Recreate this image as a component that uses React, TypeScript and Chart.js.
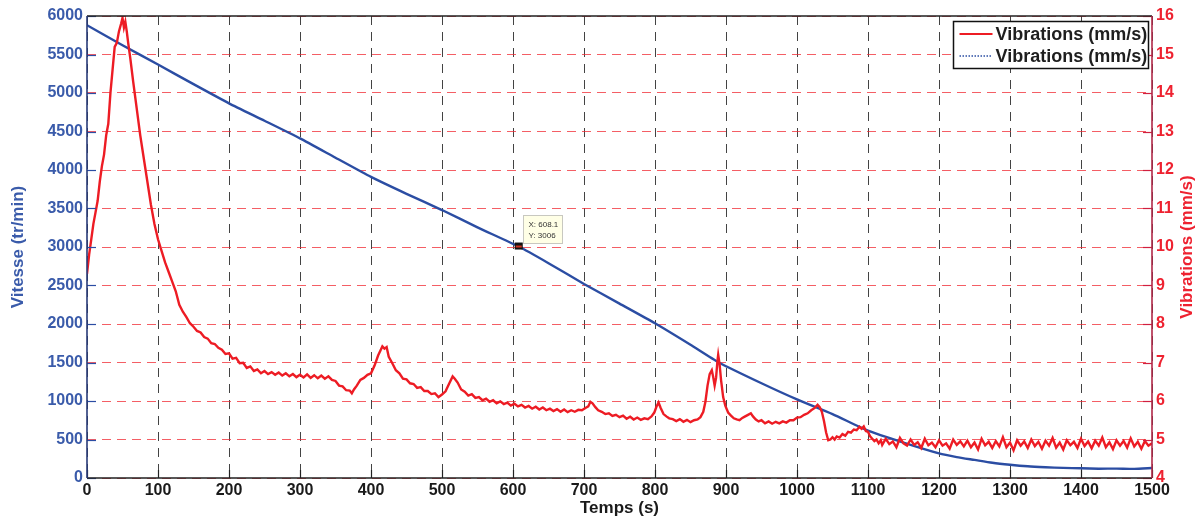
import React, { useEffect, useRef } from "react";
import { Chart, registerables } from "chart.js";

Chart.register(...registerables);

const FONT = "'Liberation Sans', Arial, Helvetica, sans-serif";

const timeTicks = [0, 100, 200, 300, 400, 500, 600, 700, 800, 900, 1000, 1100, 1200, 1300, 1400, 1500];
const speedTicks = [0, 500, 1000, 1500, 2000, 2500, 3000, 3500, 4000, 4500, 5000, 5500, 6000];
const vibrationTicks = [4, 5, 6, 7, 8, 9, 10, 11, 12, 13, 14, 15, 16];

const speedTimes = [0, 50, 100, 150, 200, 250, 300, 350, 400, 450, 500, 550, 608, 650, 700, 750, 800, 850, 890, 950, 1000, 1050, 1100, 1150, 1200, 1225, 1250, 1275, 1300, 1325, 1350, 1375, 1400, 1425, 1450, 1475, 1500];
const speedValues = [5880, 5620, 5370, 5115, 4866, 4640, 4411, 4160, 3910, 3690, 3480, 3255, 3006, 2790, 2520, 2265, 2009, 1730, 1500, 1230, 1020, 830, 615, 460, 320, 272, 235, 198, 172, 152, 140, 131, 126, 121, 122, 118, 130];

const vibrationTimes = [
  0, 3, 6, 9, 12, 15, 18, 21, 24, 27, 30, 33, 36, 39, 42, 45, 48, 50, 52, 54, 56, 58, 61, 65, 70, 75, 80, 85, 90, 95,
  100, 105, 110, 115, 120, 125, 130, 135, 140, 145, 150, 155, 160, 165, 170, 175, 180, 185, 190, 195,
  200, 205, 210, 215, 220, 225, 230, 235, 240, 245, 250, 255, 260, 265, 270, 275, 280, 285, 290, 295,
  300, 305, 310, 315, 320, 325, 330, 335, 340, 345, 350, 355, 360, 365, 370, 373, 376, 380, 385, 390, 395,
  400, 405, 410, 413, 416, 419, 422, 425, 430, 435, 440, 445, 450, 455, 460, 465, 470, 475, 480, 485, 490, 495,
  500, 505, 510, 515, 518, 522, 527, 532, 537, 542, 547, 552, 557, 562, 567, 572, 577, 582, 587, 592, 597,
  602, 607, 612, 617, 622, 627, 632, 637, 642, 647, 652, 657, 662, 667, 672, 677, 682, 687, 692, 697,
  702, 706, 709, 712, 716, 720, 725, 730, 735, 740, 745, 750, 755, 760, 765, 770, 775, 780, 785, 790, 795, 799,
  802, 805, 808, 812, 816, 820, 825, 830, 835, 840, 845, 850, 855, 860, 864, 868, 871, 874, 877, 880, 882, 884, 886, 888, 889, 891, 893, 896, 899,
  903, 907, 911, 915, 919, 923, 927, 931, 935, 938, 942, 946, 950, 955, 960, 965, 970, 975, 980, 985, 990, 995,
  1000, 1005, 1010, 1015, 1020, 1025, 1029, 1032, 1035, 1038, 1041, 1044, 1047, 1050, 1053, 1056, 1060, 1064, 1068, 1072, 1076, 1080, 1084, 1088, 1091, 1094, 1097,
  1100, 1103, 1106, 1109, 1112, 1115, 1118, 1120, 1125, 1130, 1135, 1140, 1145, 1150, 1155, 1160, 1165, 1170, 1175, 1180, 1185, 1190, 1195,
  1200, 1205, 1210, 1215, 1220, 1225, 1230, 1235, 1240, 1245, 1250, 1255, 1260, 1265, 1270, 1275, 1280, 1285, 1290, 1295,
  1300, 1305, 1310, 1315, 1320, 1325, 1330, 1335, 1340, 1345, 1350, 1355, 1360, 1365, 1370, 1375, 1380, 1385, 1390, 1395,
  1400, 1405, 1410, 1415, 1420, 1425, 1430, 1435, 1440, 1445, 1450, 1455, 1460, 1465, 1470, 1475, 1480, 1485, 1490, 1495, 1500
];
const vibrationValues = [
  9.3, 9.8, 10.2, 10.6, 10.9, 11.2, 11.7, 12.1, 12.4, 12.9, 13.2, 14.0, 14.6, 15.2, 15.3, 15.6, 15.8, 15.95, 15.7, 15.85, 15.6, 15.3, 14.9, 14.3, 13.6, 12.9, 12.3, 11.7, 11.1, 10.6,
  10.2, 9.9, 9.6, 9.35, 9.1, 8.85, 8.5, 8.32, 8.18, 8.02, 7.93, 7.82, 7.78, 7.66, 7.62, 7.5, 7.48, 7.38, 7.33, 7.22,
  7.24, 7.1, 7.12, 6.98, 6.99, 6.86, 6.9, 6.78, 6.82, 6.72, 6.78, 6.7, 6.75, 6.68, 6.74, 6.66, 6.72, 6.64, 6.7, 6.62,
  6.68, 6.61, 6.69, 6.6, 6.67, 6.59, 6.66, 6.58, 6.64, 6.55, 6.52, 6.4, 6.38, 6.28, 6.27, 6.2, 6.3, 6.4, 6.55, 6.6, 6.68,
  6.72, 6.92, 7.18, 7.3, 7.42, 7.36, 7.4, 7.15, 6.98, 6.8, 6.72, 6.58, 6.56, 6.46, 6.44, 6.34, 6.36, 6.26, 6.26, 6.18, 6.2, 6.1,
  6.17, 6.25, 6.45, 6.64, 6.58, 6.48, 6.3, 6.24, 6.14, 6.18, 6.08, 6.1, 6.02, 6.06, 5.98, 6.02, 5.94, 5.99, 5.92, 5.96, 5.88,
  5.93, 5.86, 5.9, 5.83, 5.87, 5.8, 5.85, 5.78, 5.83, 5.76, 5.8, 5.74, 5.79, 5.72, 5.78, 5.71, 5.76, 5.72, 5.77, 5.76,
  5.82, 5.86, 5.98, 5.94, 5.84, 5.76, 5.72, 5.66, 5.68, 5.61, 5.64, 5.58, 5.62, 5.54, 5.59, 5.52, 5.57, 5.51, 5.55, 5.53, 5.6, 5.7,
  5.85, 5.96, 5.82, 5.66, 5.6, 5.55, 5.53, 5.48, 5.53, 5.46, 5.51, 5.45, 5.5, 5.52, 5.58, 5.72, 5.98, 6.4, 6.7, 6.8, 6.62, 6.4, 6.6, 7.05, 7.2, 6.95, 6.55, 6.1, 5.88,
  5.7, 5.62, 5.55, 5.52, 5.5, 5.56, 5.6, 5.64, 5.68, 5.6, 5.52, 5.47, 5.5, 5.42, 5.47, 5.41, 5.46, 5.42, 5.47, 5.44, 5.5, 5.5,
  5.57, 5.58, 5.64, 5.68, 5.76, 5.82, 5.9, 5.84, 5.72, 5.48, 5.18, 4.98, 5.0, 5.06, 5.0, 5.08, 5.05, 5.14, 5.1, 5.2, 5.18, 5.26, 5.24, 5.33, 5.28, 5.34, 5.22,
  5.2, 5.08, 5.02, 4.96, 5.0, 4.9, 4.98, 4.86, 5.02, 4.88, 4.95, 4.8, 5.04, 4.9, 4.84, 5.0, 4.86, 4.93, 4.78, 5.02, 4.85, 4.92, 4.8,
  4.98, 4.84, 4.9, 4.76, 5.0, 4.86, 4.95, 4.82, 4.97, 4.8, 4.92, 4.74, 5.02, 4.85, 4.94, 4.78, 4.96, 4.82, 5.06, 4.8,
  4.92, 4.72, 4.98, 4.84, 4.95, 4.78, 5.0, 4.83, 4.94, 4.76, 4.97, 4.84, 5.04, 4.79, 4.92, 4.74, 4.98, 4.85, 4.94, 4.78,
  5.02, 4.83, 4.95, 4.77, 4.97, 4.84, 5.05, 4.8, 4.93, 4.75, 4.98, 4.84, 4.96, 4.79, 5.03, 4.82, 4.94, 4.76, 4.96, 4.84, 4.9
];

const legendLabels = ["Vibrations (mm/s)", "Vibrations (mm/s)"];
const leftTitle = "Vitesse (tr/min)";
const rightTitle = "Vibrations (mm/s)";
const bottomTitle = "Temps (s)";
const tipX = 608.1;
const tipY = 3006;

const RED = "#ED1C24";
const BLUE = "#2B4DA3";
const BLUE_TEXT = "#3A5BAA";
const RED_TEXT = "#EE2230";

const decorPlugin = {
  id: "decor",
  afterDatasetsDraw(chart: any) {
    const { ctx, chartArea: a, scales } = chart;
    const yl = scales.y;
    const yr = scales.y1;
    const xs = scales.x;
    ctx.save();
    ctx.lineWidth = 1.2;
    ctx.strokeStyle = BLUE;
    speedTicks.forEach((v) => {
      const py = Math.round(yl.getPixelForValue(v)) + 0.5;
      ctx.beginPath();
      ctx.moveTo(a.left, py);
      ctx.lineTo(a.left + 9, py);
      ctx.stroke();
    });
    ctx.strokeStyle = "#d02040";
    vibrationTicks.forEach((v) => {
      const py = Math.round(yr.getPixelForValue(v)) + 0.5;
      ctx.beginPath();
      ctx.moveTo(a.right - 9, py);
      ctx.lineTo(a.right, py);
      ctx.stroke();
    });
    ctx.strokeStyle = "#222";
    timeTicks.forEach((v) => {
      const px = Math.round(xs.getPixelForValue(v)) + 0.5;
      ctx.beginPath();
      ctx.moveTo(px, a.bottom);
      ctx.lineTo(px, a.bottom - 8);
      ctx.stroke();
    });
    ctx.lineWidth = 1.6;
    ctx.strokeStyle = "#222";
    ctx.beginPath();
    ctx.moveTo(a.left, a.top);
    ctx.lineTo(a.right, a.top);
    ctx.moveTo(a.left, a.bottom);
    ctx.lineTo(a.right, a.bottom);
    ctx.stroke();
    ctx.strokeStyle = "#283a78";
    ctx.beginPath();
    ctx.moveTo(a.left, a.top);
    ctx.lineTo(a.left, a.bottom);
    ctx.stroke();
    ctx.strokeStyle = "#b02848";
    ctx.beginPath();
    ctx.moveTo(a.right, a.top);
    ctx.lineTo(a.right, a.bottom);
    ctx.stroke();

    // data tip
    const px = xs.getPixelForValue(tipX);
    const py = yl.getPixelForValue(tipY);
    ctx.fillStyle = "#111";
    ctx.fillRect(px - 4, py - 4, 8, 7);
    ctx.fillStyle = "#d03020";
    ctx.fillRect(px - 3, py - 1, 6, 2);
    const bx = Math.round(px + 4) + 0.5;
    const by = Math.round(py - 32) + 0.5;
    ctx.fillStyle = "#FFFFE6";
    ctx.fillRect(bx, by, 39, 28);
    ctx.strokeStyle = "#c8c8c0";
    ctx.lineWidth = 1;
    ctx.strokeRect(bx, by, 39, 28);
    ctx.fillStyle = "#333";
    ctx.font = `8px ${FONT}`;
    ctx.textAlign = "left";
    ctx.textBaseline = "middle";
    ctx.fillText(`X: ${tipX}`, bx + 5, by + 9);
    ctx.fillText(`Y: ${tipY}`, bx + 5, by + 20);

    // legend
    const lw = 195;
    const lh = 47;
    const lx = Math.round(a.right - 4 - lw) + 0.5;
    const ly = Math.round(a.top + 5) + 0.5;
    ctx.fillStyle = "#fff";
    ctx.fillRect(lx, ly, lw, lh);
    ctx.strokeStyle = "#111";
    ctx.lineWidth = 1.5;
    ctx.strokeRect(lx, ly, lw, lh);
    const rows = [ly + 12.5, ly + 34.5];
    ctx.lineWidth = 2;
    ctx.strokeStyle = RED;
    ctx.beginPath();
    ctx.moveTo(lx + 6, rows[0]);
    ctx.lineTo(lx + 39, rows[0]);
    ctx.stroke();
    ctx.strokeStyle = BLUE;
    ctx.lineWidth = 1.5;
    ctx.setLineDash([1.5, 1.5]);
    ctx.beginPath();
    ctx.moveTo(lx + 6, rows[1]);
    ctx.lineTo(lx + 39, rows[1]);
    ctx.stroke();
    ctx.setLineDash([]);
    ctx.fillStyle = "#1e1e1e";
    ctx.font = `bold 18px ${FONT}`;
    ctx.textBaseline = "middle";
    legendLabels.forEach((t, i) => {
      ctx.fillText(t, lx + 42, rows[i] + 1);
    });

    // right title (reads bottom to top)
    ctx.save();
    ctx.translate(1187, (a.top + a.bottom) / 2);
    ctx.rotate(-Math.PI / 2);
    ctx.fillStyle = RED_TEXT;
    ctx.font = `bold 17px ${FONT}`;
    ctx.textAlign = "center";
    ctx.textBaseline = "middle";
    ctx.fillText(rightTitle, 0, 0);
    ctx.restore();
    ctx.restore();
  },
};

export default function App() {
  const canvasRef = useRef<HTMLCanvasElement | null>(null);

  useEffect(() => {
    if (!canvasRef.current) return;
    const vib = vibrationTimes.map((t, i) => ({ x: t, y: vibrationValues[i] }));
    const spd = speedTimes.map((t, i) => ({ x: t, y: speedValues[i] }));
    const chart = new Chart(canvasRef.current, {
      type: "line",
      data: {
        datasets: [
          {
            label: legendLabels[0],
            data: vib,
            yAxisID: "y1",
            borderColor: RED,
            borderWidth: 2.4,
            pointRadius: 0,
            tension: 0,
            fill: false,
          },
          {
            label: legendLabels[1],
            data: spd,
            yAxisID: "y",
            borderColor: BLUE,
            borderWidth: 2.4,
            pointRadius: 0,
            tension: 0.2,
            fill: false,
          },
        ],
      },
      options: {
        responsive: false,
        animation: false,
        devicePixelRatio: 1,
        layout: { padding: { top: 16, left: 0, right: 0, bottom: 0 } },
        plugins: { legend: { display: false }, tooltip: { enabled: false } },
        scales: {
          x: {
            type: "linear",
            min: 0,
            max: 1500,
            afterBuildTicks: (s: any) => {
              s.ticks = timeTicks.map((v) => ({ value: v }));
            },
            afterFit: (s: any) => {
              s.height = 43;
            },
            ticks: {
              callback: (v: any) => String(v),
              color: "#1a1a1a",
              font: { family: FONT, size: 16, weight: "bold" },
              padding: 3,
              maxRotation: 0,
              autoSkip: false,
            },
            grid: { color: "rgba(20,20,20,0.8)", lineWidth: 1, drawTicks: false },
            border: { display: false, dash: [9, 7] },
            title: {
              display: true,
              text: bottomTitle,
              color: "#1a1a1a",
              font: { family: FONT, size: 17, weight: "bold" },
              padding: { top: 0, bottom: 2 },
            },
          },
          y: {
            type: "linear",
            position: "left",
            min: 0,
            max: 6000,
            afterBuildTicks: (s: any) => {
              s.ticks = speedTicks.map((v) => ({ value: v }));
            },
            afterFit: (s: any) => {
              s.width = 87;
            },
            ticks: {
              callback: (v: any) => String(v),
              color: BLUE_TEXT,
              font: { family: FONT, size: 16, weight: "bold" },
              padding: 4,
              autoSkip: false,
            },
            grid: { display: false, drawTicks: false },
            border: { display: false },
            title: {
              display: true,
              text: leftTitle,
              color: BLUE_TEXT,
              font: { family: FONT, size: 17, weight: "bold" },
              padding: { top: 8, bottom: 0 },
            },
          },
          y1: {
            type: "linear",
            position: "right",
            min: 4,
            max: 16,
            afterBuildTicks: (s: any) => {
              s.ticks = vibrationTicks.map((v) => ({ value: v }));
            },
            afterFit: (s: any) => {
              s.width = 51;
            },
            ticks: {
              callback: (v: any) => String(v),
              color: RED_TEXT,
              font: { family: FONT, size: 16, weight: "bold" },
              padding: 4,
              autoSkip: false,
            },
            grid: { color: "rgba(240,40,50,0.75)", lineWidth: 1, drawTicks: false },
            border: { display: false, dash: [9, 6] },
          },
        },
      },
      plugins: [decorPlugin],
    });
    return () => chart.destroy();
  }, []);

  return (
    <div style={{ position: "fixed", left: 0, top: 0, width: 1203, height: 521, background: "#fff" }}>
      <canvas ref={canvasRef} width={1203} height={521} style={{ display: "block" }} />
    </div>
  );
}
